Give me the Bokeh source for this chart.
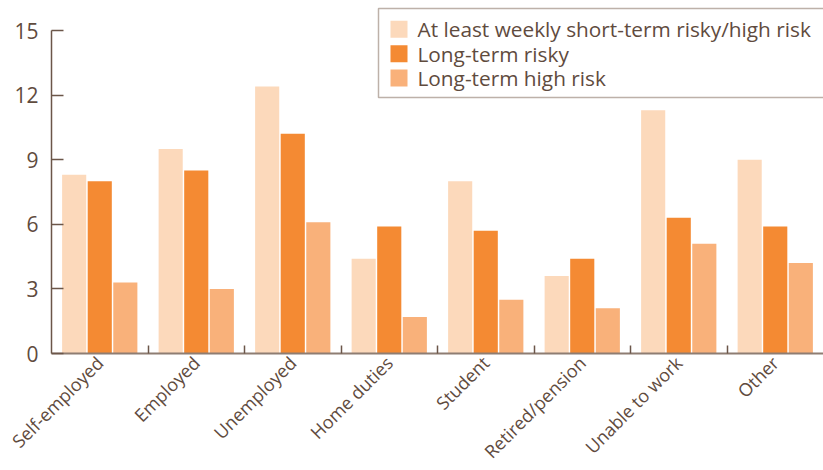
import math
from bokeh.plotting import figure
from bokeh.models import FixedTicker, Range1d, ColumnDataSource, LinearAxis
from bokeh.core.properties import value
from bokeh.embed import file_html
from bokeh.resources import INLINE

# ---- data -------------------------------------------------------------
categories = ["Self-employed", "Employed", "Unemployed", "Home duties",
              "Student", "Retired/pension", "Unable to work", "Other"]
weekly_short_term = [8.3, 9.5, 12.4, 4.4, 8.0, 3.6, 11.3, 9.0]
long_term_risky = [8.0, 8.5, 10.2, 5.9, 5.7, 4.4, 6.3, 5.9]
long_term_high = [3.3, 3.0, 6.1, 1.7, 2.5, 2.1, 5.1, 4.2]
series_names = ["At least weekly short-term risky/high risk",
                "Long-term risky", "Long-term high risk"]
y_ticks = [0, 3, 6, 9, 12, 15]

# ---- style / layout ---------------------------------------------------
colors = ["#FCD9BB", "#F48A33", "#F9B17A"]
text_color = "#5f4b3e"
axis_dark = "#6b5649"
axis_light = "#8e7d72"
FONT = "Open Sans"

W, H = 823, 470
LEFT_PX = 51            # x pixel of the value axis
ZERO_PX = 353           # y pixel of value 0
TOP_PX = 30             # y pixel of the top tick
y_top = y_ticks[-1]
px_per_unit_y = (ZERO_PX - TOP_PX) / y_top
n = len(categories)
px_per_cat = (W - LEFT_PX) / n

x_lo = -0.5 - LEFT_PX / px_per_cat
x_hi = n - 0.5
y_lo = -(H - ZERO_PX) / px_per_unit_y
y_hi = ZERO_PX / px_per_unit_y


def px_x(px):
    return x_lo + px / px_per_cat


def px_y(py):
    return y_hi - py / px_per_unit_y


idx = list(range(n))

p = figure(width=W, height=H, output_backend="svg", toolbar_location=None,
           x_range=Range1d(x_lo, x_hi), y_range=Range1d(y_lo, y_hi),
           min_border_left=0, min_border_right=0, min_border_top=0,
           min_border_bottom=0)
p.outline_line_color = None
p.xgrid.grid_line_color = None
p.ygrid.grid_line_color = None
p.background_fill_color = "white"
p.border_fill_color = "white"

series = [weekly_short_term, long_term_risky, long_term_high]
offsets = [-0.265, 0.0, 0.265]
for vals, off, col in zip(series, offsets, colors):
    src = ColumnDataSource(dict(x=[i + off for i in idx], top=vals))
    p.vbar(x="x", top="top", bottom=0, width=0.25, source=src,
           fill_color=col, line_color=None)

# y axis, pinned at the left edge of the first category
ya = p.yaxis[0]
ya.fixed_location = -0.5
ya.ticker = FixedTicker(ticks=y_ticks)
ya.bounds = (0, y_top)
ya.axis_line_color = axis_dark
ya.axis_line_width = 1.5
ya.major_tick_line_color = axis_dark
ya.major_tick_line_width = 1.5
ya.major_tick_in = 12
ya.major_tick_out = 0
ya.minor_tick_line_color = None
ya.major_label_standoff = 13
ya.major_label_text_font = FONT
ya.major_label_text_font_size = "21px"
ya.major_label_text_color = text_color

# x axis line + ticks at category boundaries
xa = p.xaxis[0]
xa.fixed_location = 0
xa.bounds = (-0.5, n - 0.5)
xa.ticker = FixedTicker(ticks=[i + 0.5 for i in range(n - 1)])
xa.axis_line_color = axis_light
xa.axis_line_width = 2
xa.major_tick_line_color = axis_dark
xa.major_tick_line_width = 1.5
xa.major_tick_in = 8
xa.major_tick_out = 0
xa.minor_tick_line_color = None
xa.major_label_text_font_size = "0px"
xa.major_label_text_color = None

# category labels, rotated
xl = LinearAxis(fixed_location=0, ticker=FixedTicker(ticks=idx),
                major_label_overrides={i: c for i, c in zip(idx, categories)},
                axis_line_color=None, major_tick_line_color=None,
                minor_tick_line_color=None, major_tick_in=0, major_tick_out=0,
                major_label_orientation=math.radians(45),
                major_label_standoff=6,
                major_label_text_font=FONT, major_label_text_font_size="18px",
                major_label_text_color=text_color)
p.add_layout(xl, "below")

# legend (box, swatches, labels)
row_px = [28.8, 53.2, 77.6]
p.quad(left=[px_x(378)], right=[px_x(830)], top=[px_y(8)], bottom=[px_y(97)],
       fill_color="white", line_color="#bdb1a9", line_width=1.5)
p.rect(x=[px_x(398.5)] * len(series_names), y=[px_y(r) for r in row_px],
       width=17, height=17, width_units="screen", height_units="screen",
       fill_color=colors, line_color=None)
p.text(x=[px_x(417)] * len(series_names), y=[px_y(r) for r in row_px],
       text=series_names, text_baseline="middle", text_align="left",
       text_font=value(FONT), text_font_size="20.8px", text_color=text_color)

open("out.html", "w").write(file_html(p, INLINE))
